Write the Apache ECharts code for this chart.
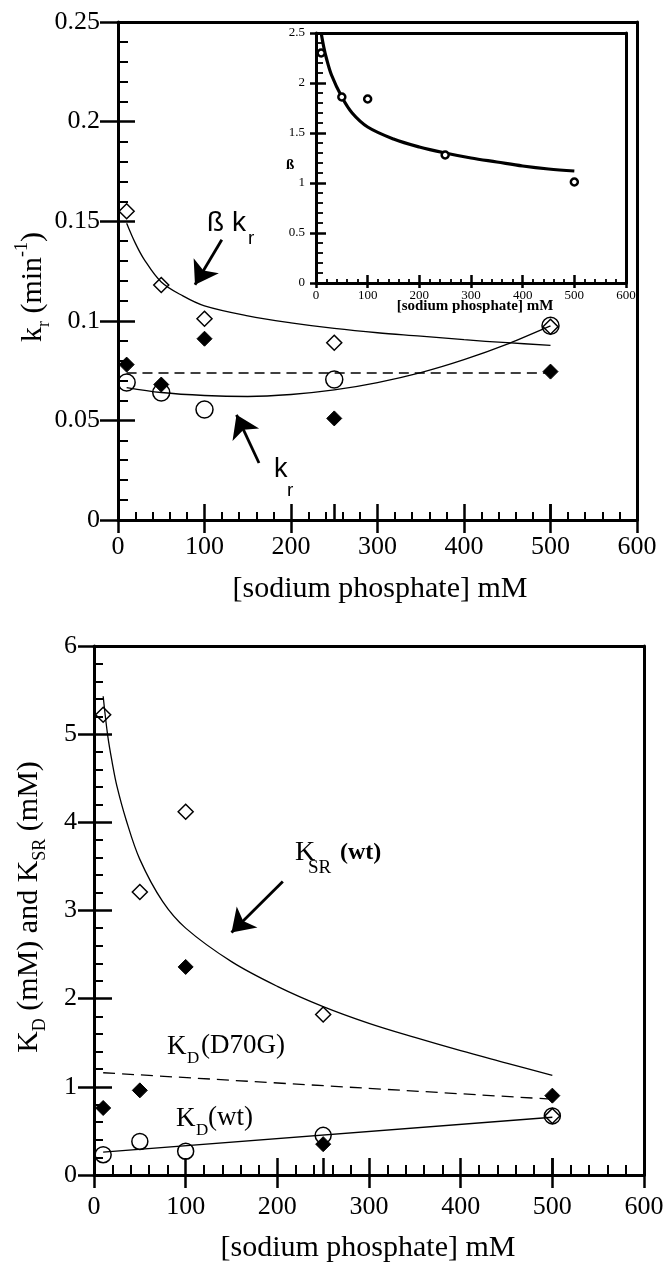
<!DOCTYPE html>
<html><head><meta charset="utf-8">
<script src="https://cdn.jsdelivr.net/npm/echarts@6/dist/echarts.min.js"></script>
<style>html,body{margin:0;padding:0;background:#fff}#c{width:668px;height:1266px}</style>
</head><body><div id="c"></div>
<script>
// ---------- data ----------
const phosphate = [10, 50, 100, 250, 500];
// top panel
const betaKr = [0.155, 0.118, 0.101, 0.089, 0.097];
const krWt = [0.069, 0.064, 0.0555, 0.0705, 0.0975];
const krD70G = [0.078, 0.068, 0.091, 0.051, 0.0745];
const betaKrFitX = [10, 20, 30, 50, 75, 100, 150, 200, 250, 300, 350, 400, 450, 500];
const betaKrFit = [0.149, 0.139, 0.131, 0.1195, 0.1125, 0.1075, 0.1025, 0.099, 0.0962, 0.094, 0.0923, 0.0905, 0.089, 0.0877];
const krFitX = [10, 50, 100, 150, 200, 250, 300, 350, 400, 450, 500];
const krFit = [0.0665, 0.064, 0.0625, 0.062, 0.063, 0.0653, 0.069, 0.074, 0.0805, 0.0883, 0.0975];
const krD70GMeanX = [10, 500];
const krD70GMean = [0.0738, 0.0738];
// inset
const betaPts = [2.3, 1.86, 1.84, 1.28, 1.01];
const betaFitX = [10, 15, 20, 30, 50, 70, 100, 150, 200, 250, 300, 350, 400, 450, 500];
const betaFit = [2.5, 2.36, 2.25, 2.08, 1.86, 1.70, 1.56, 1.44, 1.36, 1.30, 1.25, 1.21, 1.17, 1.14, 1.12];
// bottom panel
const ksrWt = [5.22, 3.21, 4.12, 1.82, 0.67];
const kdD70G = [0.76, 0.96, 2.36, 0.35, 0.90];
const kdWt = [0.23, 0.38, 0.27, 0.45, 0.67];
const ksrFitX = [10, 15, 20, 25, 35, 50, 75, 100, 150, 200, 250, 300, 350, 400, 450, 500];
const ksrFit = [5.43, 4.98, 4.67, 4.41, 4.03, 3.58, 3.10, 2.80, 2.42, 2.14, 1.91, 1.72, 1.56, 1.41, 1.27, 1.13];
const kdWtFitX = [10, 500];
const kdWtFit = [0.26, 0.655];
const kdD70GFitX = [10, 500];
const kdD70GFit = [1.16, 0.86];
// arrows (data coordinates: [tail, head])
const arrowBetaKr = [[120, 0.1407], [89, 0.1181]];
const arrowKr = [[163, 0.0286], [137, 0.0528]];
const arrowKsr = [[206, 3.33], [150, 2.75]];

// ---------- styling ----------
const SERIF = "'Liberation Serif','Times New Roman',serif";
const SANS = "'Liberation Sans',Arial,sans-serif";
const K = '#000';
function pairs(xs, ys) { return xs.map((x, i) => [x, ys[i]]); }

function axesFor(grid, c) {
  const common = { gridIndex: grid, type: 'value', min: c.min, max: c.max, interval: c.interval, splitLine: { show: false }, silent: true };
  const main = Object.assign({}, common, {
    position: c.pos,
    axisLine: { show: true, onZero: false, lineStyle: { color: K, width: c.lineW } },
    axisTick: { show: true, inside: true, length: c.tickIn, lineStyle: { color: K, width: c.tickW } },
    minorTick: { show: true, splitNumber: 5, length: c.minorLen, lineStyle: { color: K, width: c.minorW } },
    axisLabel: { show: true, margin: c.margin, color: K, fontFamily: SERIF, fontSize: c.fontSize }
  });
  const out = Object.assign({}, common, {
    position: c.pos, axisLine: { show: false, onZero: false },
    axisTick: { show: true, inside: false, length: c.tickOut, lineStyle: { color: K, width: c.tickW } },
    axisLabel: { show: false }
  });
  const frame = Object.assign({}, common, {
    position: c.framePos, axisLine: { show: true, onZero: false, lineStyle: { color: K, width: c.lineW } },
    axisTick: { show: false }, axisLabel: { show: false }
  });
  const list = [main, out, frame];
  if (c.extraInterval) {
    list.push(Object.assign({}, common, {
      interval: c.extraInterval, position: c.pos, axisLine: { show: false, onZero: false },
      axisTick: { show: true, inside: true, length: c.tickIn, lineStyle: { color: K, width: c.tickW } },
      axisLabel: { show: false }
    }));
  }
  return list;
}

const xAxes = [].concat(
  axesFor(0, { min: 0, max: 600, interval: 100, pos: 'bottom', framePos: 'top', lineW: 3, tickIn: 16, tickOut: 13, tickW: 2.5, minorLen: 8, minorW: 2, margin: 14, fontSize: 26, extraInterval: 250 }), // 0..3
  axesFor(1, { min: 0, max: 600, interval: 100, pos: 'bottom', framePos: 'top', lineW: 3, tickIn: 8, tickOut: 5, tickW: 2.5, minorLen: 4, minorW: 1.8, margin: 6, fontSize: 13 }), // 4..6
  axesFor(2, { min: 0, max: 600, interval: 100, pos: 'bottom', framePos: 'top', lineW: 3, tickIn: 17, tickOut: 13, tickW: 2.5, minorLen: 10, minorW: 2, margin: 19, fontSize: 26, extraInterval: 250 }) // 7..10
);
const yAxes = [].concat(
  axesFor(0, { min: 0, max: 0.25, interval: 0.05, pos: 'left', framePos: 'right', lineW: 3, tickIn: 17, tickOut: 18, tickW: 2.5, minorLen: 10, minorW: 2, margin: 18, fontSize: 26 }), // 0..2
  axesFor(1, { min: 0, max: 2.5, interval: 0.5, pos: 'left', framePos: 'right', lineW: 3, tickIn: 10, tickOut: 6, tickW: 2.5, minorLen: 7, minorW: 1.8, margin: 11, fontSize: 13 }), // 3..5
  axesFor(2, { min: 0, max: 6, interval: 1, pos: 'left', framePos: 'right', lineW: 3, tickIn: 18, tickOut: 16, tickW: 2.5, minorLen: 9, minorW: 2, margin: 17, fontSize: 26 }) // 6..8
);

function arrowMark(a) {
  return {
    silent: true, animation: false, symbol: ['none', 'arrow'], symbolSize: 22,
    itemStyle: { color: K },
    lineStyle: { color: K, width: 2.8, type: 'solid', opacity: 1 }, label: { show: false }, emphasis: { disabled: true },
    data: [[{ coord: a[0] }, { coord: a[1] }]]
  };
}
function fitLine(xi, yi, xs, ys, width, dash, mark) {
  const s = { type: 'line', xAxisIndex: xi, yAxisIndex: yi, data: pairs(xs, ys), smooth: 0.35, symbol: 'none', showSymbol: false,
    itemStyle: { color: K },
    lineStyle: { color: K, width: width, type: dash || 'solid' }, z: 2, silent: true };
  if (mark) s.markLine = arrowMark(mark);
  return s;
}
function scatter(xi, yi, ys, symbol, size, fill, bw) {
  return { type: 'scatter', xAxisIndex: xi, yAxisIndex: yi, data: pairs(phosphate, ys), symbol: symbol, symbolSize: size,
    itemStyle: { color: fill, borderColor: K, borderWidth: bw, opacity: 1 }, z: 3, silent: true };
}
const NONE = 'rgba(0,0,0,0)';

const series = [
  fitLine(0, 0, betaKrFitX, betaKrFit, 1.3, null, arrowBetaKr),
  fitLine(0, 0, krFitX, krFit, 1.3, null, arrowKr),
  fitLine(0, 0, krD70GMeanX, krD70GMean, 1.3, [10, 6]),
  scatter(0, 0, krWt, 'circle', 17, NONE, 1.5),
  scatter(0, 0, betaKr, 'diamond', 15, NONE, 1.5),
  scatter(0, 0, krD70G, 'diamond', 15, K, 1),
  fitLine(4, 3, betaFitX, betaFit, 3.2, null),
  scatter(4, 3, betaPts, 'circle', 7, '#fff', 2.5),
  fitLine(7, 6, ksrFitX, ksrFit, 1.3, null, arrowKsr),
  fitLine(7, 6, kdWtFitX, kdWtFit, 1.3, null),
  fitLine(7, 6, kdD70GFitX, kdD70GFit, 1.3, [12, 7]),
  scatter(7, 6, kdWt, 'circle', 16, NONE, 1.5),
  scatter(7, 6, ksrWt, 'diamond', 15, NONE, 1.5),
  scatter(7, 6, kdD70G, 'diamond', 15, K, 1)
];

function t(x, y, text, family, size, extra) {
  return Object.assign({ type: 'text', x: x, y: y, silent: true, z: 10,
    style: Object.assign({ text: text, fontFamily: family, fontSize: size, fill: K, align: 'left', verticalAlign: 'middle' }, extra || {}) });
}
function rotTitle(x, y, text, size) {
  return { type: 'text', x: x, y: y, rotation: Math.PI / 2, silent: true, z: 10,
    style: { text: text, align: 'center', verticalAlign: 'middle', fill: K,
      rich: {
        n: { fontFamily: SERIF, fontSize: size, lineHeight: 40, fill: K },
        s: { fontFamily: SERIF, fontSize: 18, lineHeight: 18, verticalAlign: 'bottom', fill: K },
        p: { fontFamily: SERIF, fontSize: 18, lineHeight: 18, verticalAlign: 'top', fill: K }
      } } };
}

const graphic = [
  rotTitle(33, 287, '{n|k}{s|r}{n| (min}{p|-1}{n|)}', 30),
  rotTitle(29, 907, '{n|K}{s|D}{n| (mM) and K}{s|SR}{n| (mM)}', 30),
  t(380, 589, '[sodium phosphate] mM', SERIF, 30, { align: 'center' }),
  t(368, 1248, '[sodium phosphate] mM', SERIF, 30, { align: 'center' }),
  t(475, 306, '[sodium phosphate] mM', SERIF, 15, { align: 'center', fontWeight: 'bold' }),
  t(286, 165, 'ß', SERIF, 15, { fontWeight: 'bold' }),
  t(207, 223, 'ß k', SANS, 28),
  t(248, 239, 'r', SANS, 19),
  t(274, 470, 'k', SANS, 27),
  t(287, 491, 'r', SANS, 19),
  t(295, 853, 'K', SERIF, 28),
  t(308, 868, 'SR', SERIF, 19),
  t(340, 853, '(wt)', SERIF, 24, { fontWeight: 'bold' }),
  t(167, 1047, 'K', SERIF, 27),
  t(187, 1059, 'D', SERIF, 17),
  t(201, 1046, '(D70G)', SERIF, 27),
  t(176, 1119, 'K', SERIF, 27),
  t(196, 1131, 'D', SERIF, 17),
  t(208, 1118, '(wt)', SERIF, 27)
];

const chart = echarts.init(document.getElementById('c'), null, { renderer: 'canvas' });
chart.setOption({
  backgroundColor: '#fff',
  animation: false,
  grid: [
    { left: 118, top: 22, width: 519, height: 498, containLabel: false, outerBoundsMode: 'none' },
    { left: 316, top: 33, width: 310, height: 250, containLabel: false, outerBoundsMode: 'none' },
    { left: 94, top: 646, width: 550, height: 529, containLabel: false, outerBoundsMode: 'none' }
  ],
  xAxis: xAxes,
  yAxis: yAxes,
  series: series,
  graphic: graphic
});
</script>
</body></html>
